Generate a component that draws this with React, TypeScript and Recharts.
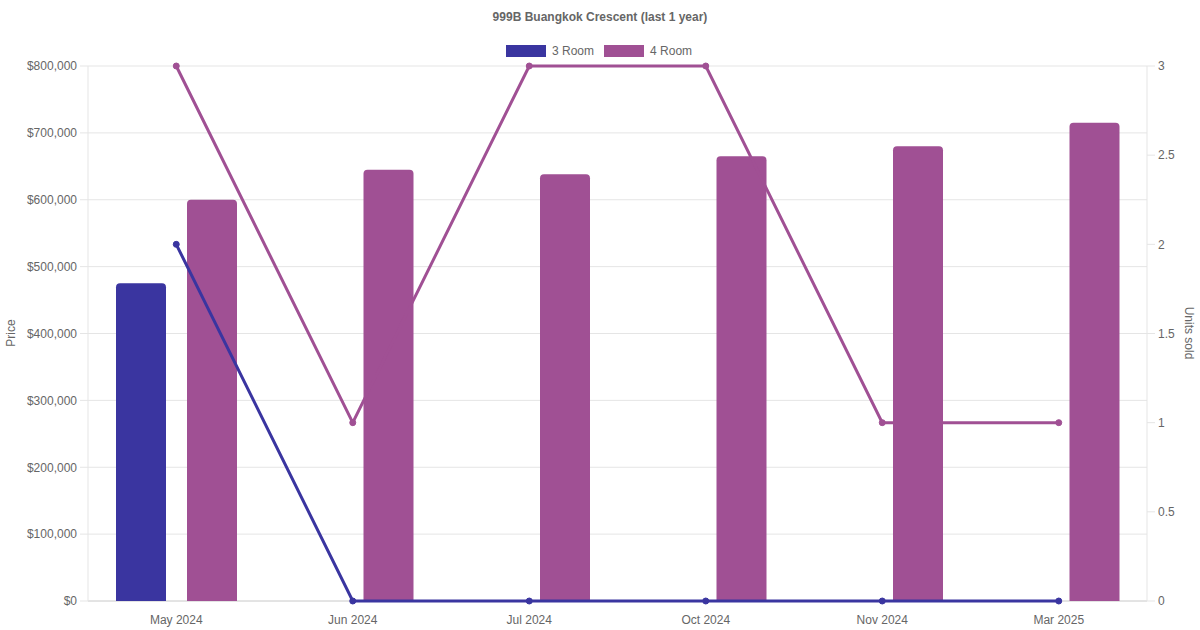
import { ComposedChart, Bar, Line, XAxis, YAxis, CartesianGrid } from 'recharts';

const months = ['May 2024', 'Jun 2024', 'Jul 2024', 'Oct 2024', 'Nov 2024', 'Mar 2025'];
const price3Room = [475000, null, null, null, null, null];
const price4Room = [600000, 645000, 638000, 665000, 680000, 715000];
const units3Room = [2, 0, 0, 0, 0, 0];
const units4Room = [3, 1, 3, 3, 1, 1];
const priceTicks = [0, 100000, 200000, 300000, 400000, 500000, 600000, 700000, 800000];
const unitTicks = [0, 0.5, 1, 1.5, 2, 2.5, 3];

const data = months.map((m, i) => ({
  name: m,
  p3: price3Room[i],
  p4: price4Room[i],
  u3: units3Room[i],
  u4: units4Room[i],
}));

const C3 = '#3a35a0';
const C4 = '#a05094';
const FONT = '"Liberation Sans", Arial, Helvetica, sans-serif';
const tickStyle = { fontSize: 12, fill: '#666', fontFamily: FONT };

// darker line at the zero baseline, light grid elsewhere
const gridLine = (props: any) => {
  const { x1, x2, y1, y2, index } = props;
  return (
    <line
      key={'h-' + index}
      x1={x1}
      x2={x2}
      y1={y1}
      y2={y2}
      stroke={Math.abs(y1 - 601) < 1 ? '#c8c8c8' : '#e5e5e5'}
      strokeWidth={1}
    />
  );
};

const App = () => {
  return (
    <div style={{ position: 'absolute', left: 0, top: 0, width: 1200, height: 630, background: '#fff', fontFamily: FONT, color: '#666' }}>
      <div style={{ position: 'absolute', top: 10, left: 0, width: 1200, textAlign: 'center', fontSize: 12, fontWeight: 'bold' }}>
        999B Buangkok Crescent (last 1 year)
      </div>
      <div style={{ position: 'absolute', top: 44, left: 506, display: 'flex', alignItems: 'center', fontSize: 12 }}>
        <span style={{ width: 40, height: 12, background: C3, display: 'inline-block', marginRight: 6 }} />
        <span style={{ marginRight: 10 }}>3 Room</span>
        <span style={{ width: 40, height: 12, background: C4, display: 'inline-block', marginRight: 6 }} />
        <span>4 Room</span>
      </div>
      <div style={{ position: 'absolute', left: 11, top: 333, fontSize: 12, transform: 'translate(-50%, -50%) rotate(-90deg)', whiteSpace: 'nowrap' }}>
        Price
      </div>
      <div style={{ position: 'absolute', left: 1189, top: 333, fontSize: 12, transform: 'translate(-50%, -50%) rotate(90deg)', whiteSpace: 'nowrap' }}>
        Units sold
      </div>
      <ComposedChart
        width={1200}
        height={630}
        data={data}
        margin={{ top: 66, right: 0, bottom: 0, left: 0 }}
        barSize={50}
        barGap={21}
      >
        <CartesianGrid yAxisId="left" vertical={false} horizontal={gridLine} />
        <XAxis
          dataKey="name"
          height={29}
          tick={tickStyle}
          tickLine={false}
          tickSize={0}
          tickMargin={14}
          axisLine={false}
        />
        <YAxis
          yAxisId="left"
          width={88}
          domain={[0, 800000]}
          ticks={priceTicks}
          tickFormatter={(v: number) => '$' + v.toLocaleString('en-US')}
          tick={tickStyle}
          tickSize={8}
          tickMargin={3}
          tickLine={{ stroke: '#e5e5e5' }}
          axisLine={{ stroke: '#e5e5e5' }}
        />
        <YAxis
          yAxisId="right"
          orientation="right"
          width={53}
          domain={[0, 3]}
          ticks={unitTicks}
          tick={tickStyle}
          tickSize={8}
          tickMargin={3}
          tickLine={{ stroke: '#e5e5e5' }}
          axisLine={{ stroke: '#e5e5e5' }}
        />
        <Bar yAxisId="left" dataKey="p3" fill={C3} radius={[4, 4, 0, 0]} isAnimationActive={false} />
        <Bar yAxisId="left" dataKey="p4" fill={C4} radius={[4, 4, 0, 0]} isAnimationActive={false} />
        <Line yAxisId="right" type="linear" dataKey="u3" stroke={C3} strokeWidth={3} dot={{ r: 3, fill: C3, stroke: C3, strokeWidth: 1 }} isAnimationActive={false} />
        <Line yAxisId="right" type="linear" dataKey="u4" stroke={C4} strokeWidth={3} dot={{ r: 3, fill: C4, stroke: C4, strokeWidth: 1 }} isAnimationActive={false} />
      </ComposedChart>
    </div>
  );
};

export default App;
